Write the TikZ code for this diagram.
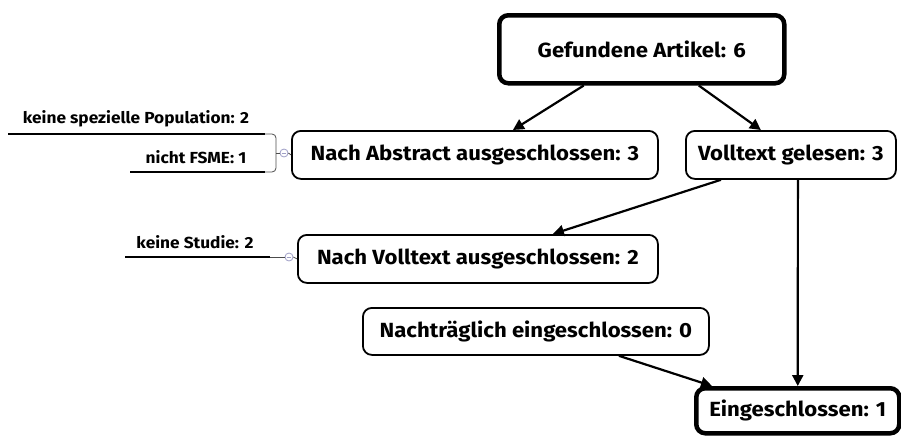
\documentclass[tikz,border=0pt]{standalone}
\usepackage{fontspec}
\setmainfont{Fira Sans}[FakeStretch=1.08]
\usetikzlibrary{arrows.meta,calc}
\begin{document}
\begin{tikzpicture}[x=1pt,y=-1pt,
  box/.style={draw,rounded corners=9pt,line width=1.8pt,inner sep=0pt,font=\bfseries\fontsize{20.5}{23}\selectfont,anchor=north west},
  bigbox/.style={box,line width=4.5pt},
  arr/.style={line width=2.2pt,-{Triangle[length=11pt,width=11pt]}},
  lab/.style={font=\bfseries\fontsize{16}{18}\selectfont,inner sep=0pt},
  uline/.style={line width=2.6pt},
  brk/.style={draw=black!70,line width=0.8pt},
  knob/.style={circle,draw=blue!25!gray!60,fill=white,line width=0.8pt,minimum size=8pt,inner sep=0pt,path picture={\draw[blue!25!gray!60,line width=0.6pt] ([xshift=-2.3pt]path picture bounding box.center) -- ([xshift=2.3pt]path picture bounding box.center);}}
]
\useasboundingbox (0,0) rectangle (901,437);
\node[bigbox,minimum width=285pt,minimum height=68pt] (g) at (497,13) {Gefundene Artikel: 6};
\node[box,minimum width=366pt,minimum height=48pt] (a) at (291,130) {Nach Abstract ausgeschlossen: 3};
\node[box,minimum width=210pt,minimum height=48pt] (v) at (685,130) {Volltext gelesen: 3};
\node[box,minimum width=360pt,minimum height=48pt] (vt) at (297,234) {Nach Volltext ausgeschlossen: 2};
\node[box,minimum width=346pt,minimum height=47pt] (n) at (362,307) {Nachträglich eingeschlossen: 0};
\node[bigbox,minimum width=203pt,minimum height=45pt] (e) at (694,386) {Eingeschlossen: 1};

\draw[arr] ([xshift=-58pt]g.south) -- ([xshift=38pt]a.north);
\draw[arr] ([xshift=57pt]g.south) -- ([xshift=-30pt]v.north);
\draw[arr] ([xshift=-70pt]v.south) -- ([xshift=75pt]vt.north);
\draw[arr] ([xshift=7pt]v.south) -- ([xshift=0pt]e.north);
\draw[arr] ([xshift=83pt]n.south) -- ([xshift=18pt]e.north west);

% left side labels
\node[lab,anchor=south] (l1) at (136,127) {keine spezielle Population: 2};
\node[lab,anchor=south] (l2) at (196,164) {nicht FSME: 1};
\node[lab,anchor=south] (l3) at (195,249) {keine Studie: 2};
\coordinate (p1a) at (8,134);
\coordinate (p1b) at (265,134);
\coordinate (p2a) at (130,172);
\coordinate (p2b) at (265,172);
\coordinate (p3a) at (125,257);
\coordinate (p3b) at (270,257);
\draw[uline] (p1a) -- (p1b);
\draw[uline] (p2a) -- (p2b);
\draw[uline] (p3a) -- (p3b);
\node[knob] (k1) at (284,153) {};
\node[knob] (k2) at (289,257) {};
\draw[brk,rounded corners=4pt] (p1b) -| (276,153) |- (p2b);
\draw[brk] (276,153) -- (k1.west);
\draw[brk] (k1.east) -- (a.west);
\draw[brk] (p3b) -- (k2.west);
\draw[brk] (k2.east) -- (vt.west);
\end{tikzpicture}
\end{document}
